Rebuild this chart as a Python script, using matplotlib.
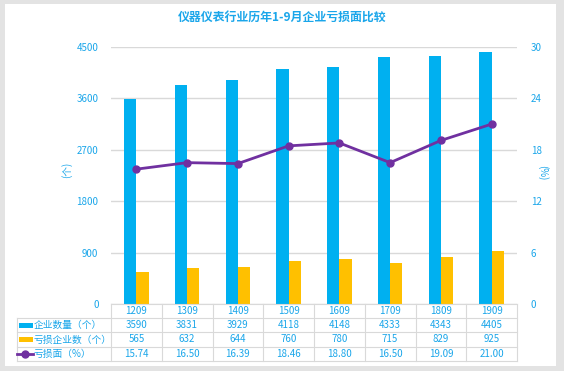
import matplotlib
matplotlib.use("Agg")
import matplotlib.pyplot as plt
from matplotlib.patches import Rectangle
from matplotlib.lines import Line2D
import matplotlib.transforms as mtransforms

plt.rcParams['font.family'] = ['Noto Sans CJK SC', 'DejaVu Sans']

categories = ['1209', '1309', '1409', '1509', '1609', '1709', '1809', '1909']
companies = [3590, 3831, 3929, 4118, 4148, 4333, 4343, 4405]
loss_companies = [565, 632, 644, 760, 780, 715, 829, 925]
loss_ratio = [15.74, 16.50, 16.39, 18.46, 18.80, 16.50, 19.09, 21.00]
left_ticks = [0, 900, 1800, 2700, 3600, 4500]
right_ticks = [0, 6, 12, 18, 24, 30]
row_names = ['企业数量（个）', '亏损企业数（个）', '亏损面（%）']
title = '仪器仪表行业历年1-9月企业亏损面比较'

BLUE = '#00B0F0'
YELLOW = '#FFC000'
PURPLE = '#7030A0'
TXT = '#1AA6EA'
GRID = '#D9D9D9'

W, H = 564, 371
fig = plt.figure(figsize=(W / 100, H / 100), dpi=100)
fig.patch.set_facecolor('#E3E3E3')
fig.add_artist(Rectangle((5 / W, 1 - 366 / H), (556 - 5) / W, (366 - 4) / H,
                         transform=fig.transFigure, facecolor='white',
                         edgecolor='none', zorder=0))

def fx(px):
    return px / W

def fy(py):
    return 1 - py / H

ax_l, ax_r, ax_t, ax_b = 111, 517, 47, 304
ax = fig.add_axes([fx(ax_l), fy(ax_b), fx(ax_r) - fx(ax_l), fy(ax_t) - fy(ax_b)])
ax.set_facecolor('none')
ax2 = ax.twinx()

x = list(range(len(categories)))
bw = 0.24
ax.bar([i - bw for i in x], companies, width=bw, align='edge', color=BLUE, zorder=3)
ax.bar(x, loss_companies, width=bw, align='edge', color=YELLOW, zorder=3)
ax2.plot(x, loss_ratio, color=PURPLE, lw=2, marker='o', markersize=5, zorder=4)

ax.set_xlim(-0.5, len(categories) - 0.5)
ax.set_ylim(0, 4500)
ax2.set_ylim(0, 30)
ax.set_yticks(left_ticks)
ax2.set_yticks(right_ticks)
ax.set_xticks([])
ax.grid(axis='y', color=GRID, lw=1, zorder=0)
ax.set_axisbelow(True)
for a in (ax, ax2):
    for s in a.spines.values():
        s.set_visible(False)
    a.tick_params(axis='y', length=0, labelsize=7, labelcolor=TXT)
    a.tick_params(axis='x', length=0)
ax.tick_params(axis='y', pad=9)
ax2.tick_params(axis='y', pad=10)

fig.text(fx(282), fy(17), title, ha='center', va='center', fontsize=8.6,
         fontweight='bold', color=TXT)
fig.text(fx(67), fy(170), '(个)', rotation=90, ha='center', va='center',
         fontsize=7, color=TXT)
fig.text(fx(543), fy(173), '(%)', rotation=270, ha='center', va='center',
         fontsize=7, color=TXT)

# data table
rows_y = [304, 318, 332, 347, 361]
tab_left = 17
col_w = (ax_r - ax_l) / len(categories)
lw = 0.8
fig.add_artist(Line2D([fx(ax_l), fx(ax_r)], [fy(rows_y[0])] * 2, color=GRID, lw=lw))
for yy in rows_y[1:]:
    fig.add_artist(Line2D([fx(tab_left), fx(ax_r)], [fy(yy)] * 2, color=GRID, lw=lw))
fig.add_artist(Line2D([fx(tab_left)] * 2, [fy(rows_y[1]), fy(rows_y[-1])], color=GRID, lw=lw))
for i in range(len(categories) + 1):
    xx = ax_l + i * col_w
    fig.add_artist(Line2D([fx(xx)] * 2, [fy(rows_y[0]), fy(rows_y[-1])], color=GRID, lw=lw))

trans = mtransforms.blended_transform_factory(ax.transData, fig.transFigure)
row_vals = [categories,
            [str(v) for v in companies],
            [str(v) for v in loss_companies],
            ['%.2f' % v for v in loss_ratio]]
for r, vals in enumerate(row_vals):
    yc = (rows_y[r] + rows_y[r + 1]) / 2
    for i, v in enumerate(vals):
        ax.text(i, fy(yc), v, transform=trans, ha='center', va='center',
                fontsize=7, color=TXT, clip_on=False)

for r, name in enumerate(row_names):
    yc = (rows_y[r + 1] + rows_y[r + 2]) / 2
    if r < 2:
        fig.add_artist(Rectangle((fx(19), fy(yc + 2.5)), fx(33) - fx(19), fy(yc - 2.5) - fy(yc + 2.5),
                                 transform=fig.transFigure,
                                 facecolor=[BLUE, YELLOW][r], edgecolor='none'))
    else:
        fig.add_artist(Line2D([fx(17), fx(33)], [fy(yc)] * 2, color=PURPLE, lw=2,
                              transform=fig.transFigure))
        fig.add_artist(Line2D([fx(25)], [fy(yc)], color=PURPLE, marker='o',
                              markersize=5, transform=fig.transFigure))
    fig.text(fx(34), fy(yc), name, ha='left', va='center', fontsize=7, color=TXT)

fig.savefig('out.png', dpi=100)
